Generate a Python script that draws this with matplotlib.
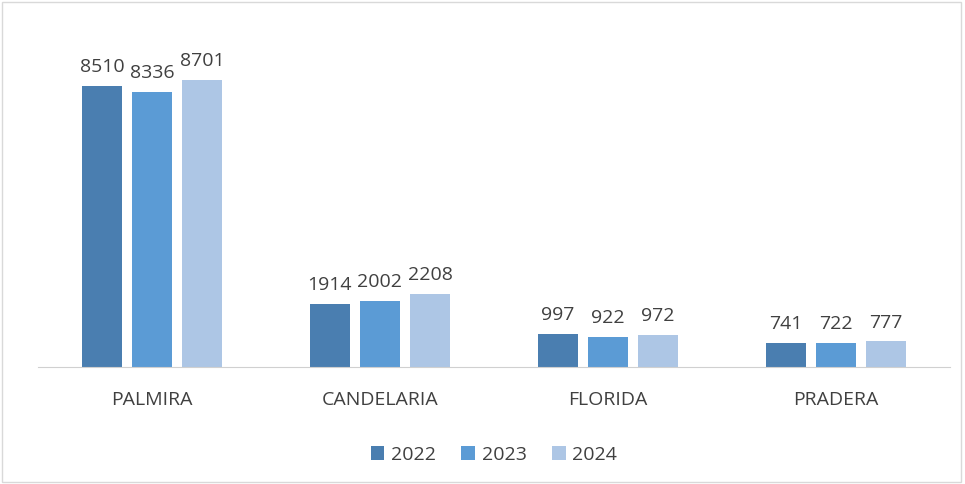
import matplotlib.pyplot as plt
import numpy as np

categories = ["PALMIRA", "CANDELARIA", "FLORIDA", "PRADERA"]
years = ["2022", "2023", "2024"]
v2022 = [8510, 1914, 997, 741]
v2023 = [8336, 2002, 922, 722]
v2024 = [8701, 2208, 972, 777]

colors = ["#4a7eb0", "#5b9bd5", "#adc6e5"]

plt.rcParams['font.family'] = ['Open Sans', 'DejaVu Sans']

fig = plt.figure(figsize=(9.65, 4.84), dpi=100)
ax = fig.add_axes([38 / 965, 1 - 367 / 484, 912 / 965, 330 / 484])

x = np.arange(len(categories))
w = 0.175
step = 0.22
for i, (vals, yr) in enumerate(zip([v2022, v2023, v2024], years)):
    bars = ax.bar(x + (i - 1) * step, vals, w, color=colors[i], label=yr)
    ax.bar_label(bars, labels=[str(v) for v in vals], padding=7,
                 fontsize=14, color="#404040")

ax.set_xlim(-0.5, len(categories) - 0.5)
ax.set_ylim(0, 10000)
ax.set_xticks(x)
ax.set_xticklabels(categories, fontsize=14, color="#404040")
ax.tick_params(axis="x", length=0, pad=17)
ax.set_yticks([])
for s in ["top", "right", "left"]:
    ax.spines[s].set_visible(False)
ax.spines["bottom"].set_color("#d0d0d0")

ax.legend(loc="upper center", bbox_to_anchor=(0.5, -0.185), ncol=3, frameon=False,
          fontsize=14, handlelength=0.7, handleheight=0.7, handletextpad=0.35,
          columnspacing=1.3, labelcolor="#404040")

fig.patches.append(plt.Rectangle((0.002, 0.004), 0.994, 0.992, transform=fig.transFigure,
                                 fill=False, edgecolor="#d9d9d9", linewidth=1))

fig.savefig("out.png", dpi=100)
